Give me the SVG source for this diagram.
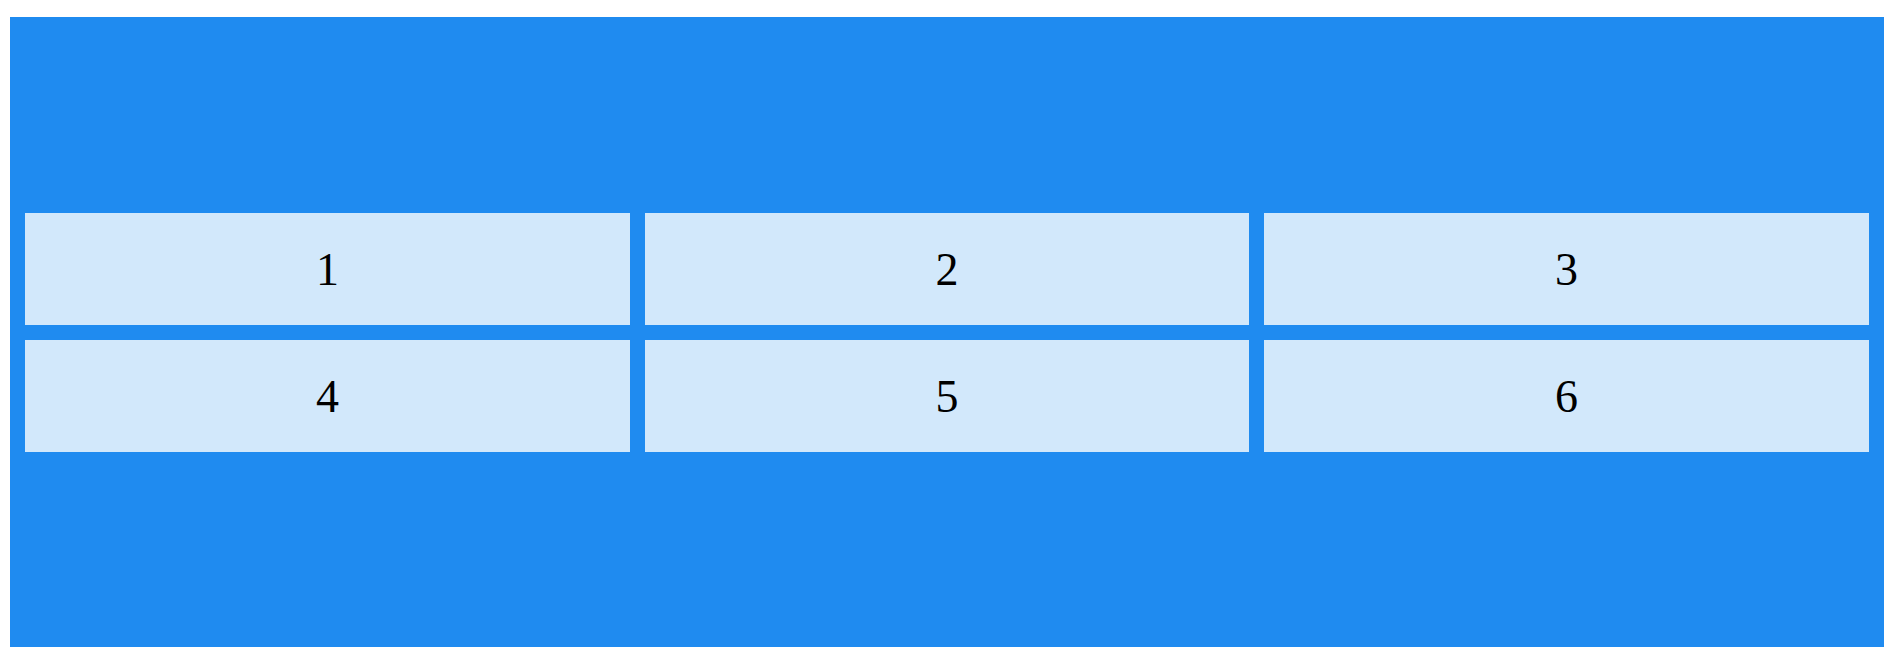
<svg xmlns="http://www.w3.org/2000/svg" width="1896" height="664" viewBox="0 0 1896 664">
<style>
.bg{fill:#1f8bf0}
.cell{fill:#d2e8fb}
.lbl{font-family:"Liberation Serif","Times New Roman",serif;font-size:46px;fill:#000;text-anchor:middle;dominant-baseline:central}
</style>
<rect x="0" y="0" width="1896" height="664" fill="#ffffff"/>
<rect id="container" class="bg" x="10" y="17" width="1874" height="630"/>
<g id="connectors"></g>
<g id="cell1"><rect class="cell" x="25" y="213" width="605" height="112"/><text class="lbl" x="327.5" y="269">1</text></g>
<g id="cell2"><rect class="cell" x="645" y="213" width="604" height="112"/><text class="lbl" x="947" y="269">2</text></g>
<g id="cell3"><rect class="cell" x="1264" y="213" width="605" height="112"/><text class="lbl" x="1566.5" y="269">3</text></g>
<g id="cell4"><rect class="cell" x="25" y="340" width="605" height="112"/><text class="lbl" x="327.5" y="396">4</text></g>
<g id="cell5"><rect class="cell" x="645" y="340" width="604" height="112"/><text class="lbl" x="947" y="396">5</text></g>
<g id="cell6"><rect class="cell" x="1264" y="340" width="605" height="112"/><text class="lbl" x="1566.5" y="396">6</text></g>
</svg>
